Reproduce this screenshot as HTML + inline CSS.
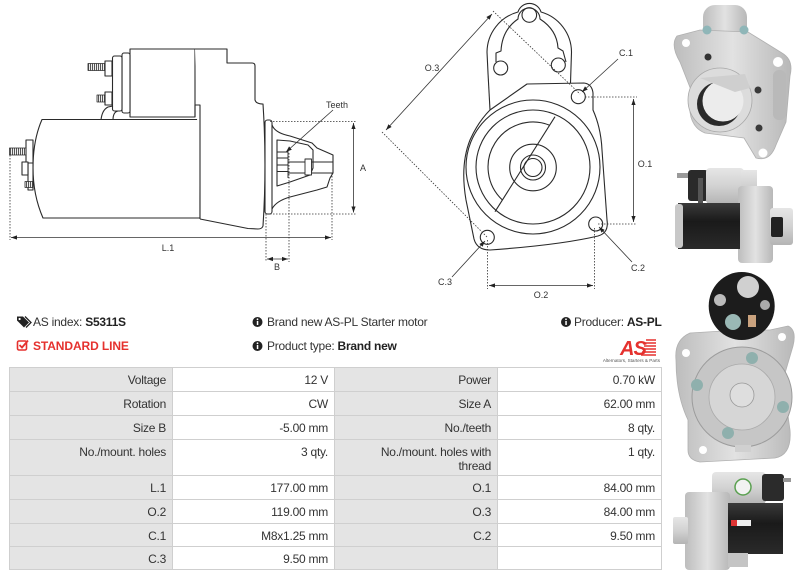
<!DOCTYPE html>
<html>
<head>
<meta charset="utf-8">
<style>
html,body{margin:0;padding:0;background:#fff;}
body{width:800px;height:578px;position:relative;overflow:hidden;font-family:"Liberation Sans",Arial,sans-serif;color:#333;}
.t{position:absolute;font-size:12px;line-height:14px;white-space:nowrap;letter-spacing:-0.25px;color:#333;}
.t b{color:#222;}
.grid{position:absolute;left:9px;top:367px;display:grid;grid-template-columns:163px 162px 163px 164px;grid-template-rows:24px 24px 24px 36px 24px 24px 23px 23px;border-top:1px solid #cfcfcf;border-left:1px solid #cfcfcf;}
.grid div{box-sizing:border-box;border-right:1px solid #cfcfcf;border-bottom:1px solid #cfcfcf;text-align:right;padding:5px 6px 0 0;font-size:12px;line-height:14px;letter-spacing:-0.25px;color:#333;white-space:nowrap;}
.grid .l{background:#e4e4e4;}
.grid .v{background:#fff;}
</style>
</head>
<body>
<svg width="800" height="578" style="position:absolute;left:0;top:0" xmlns="http://www.w3.org/2000/svg">
<defs>
<marker id="ar" viewBox="0 0 10 10" refX="10" refY="5" markerUnits="userSpaceOnUse" markerWidth="6" markerHeight="6" orient="auto-start-reverse"><path d="M0 1.5 L10 5 L0 8.5 z" fill="#222"/></marker>
<pattern id="th" width="2" height="10" patternUnits="userSpaceOnUse"><rect width="2" height="10" fill="#fff"/><rect width="1.1" height="10" fill="#555"/></pattern>
<linearGradient id="sv" x1="0" y1="0" x2="0" y2="1"><stop offset="0" stop-color="#e6e6e6"/><stop offset="0.5" stop-color="#d2d2d2"/><stop offset="1" stop-color="#b4b4b4"/></linearGradient>
<linearGradient id="svh" x1="0" y1="0" x2="1" y2="0"><stop offset="0" stop-color="#bdbdbd"/><stop offset="0.5" stop-color="#e2e2e2"/><stop offset="1" stop-color="#b8b8b8"/></linearGradient>
<linearGradient id="bk" x1="0" y1="0" x2="0" y2="1"><stop offset="0" stop-color="#3a3a3a"/><stop offset="0.4" stop-color="#1a1a1a"/><stop offset="1" stop-color="#2a2a2a"/></linearGradient>
</defs>

<!-- LEFT DIAGRAM -->
<g fill="none" stroke="#2a2a2a" stroke-width="1.1" stroke-linejoin="round">
  <path d="M42 119.5 L200 119.5 L200 218 L43 218 Q33 195 33 168 Q33 140 42 119.5 Z" fill="#fff"/>
  <rect x="26" y="140" width="7" height="23" fill="#fff"/>
  <rect x="28" y="163" width="5" height="27" fill="#fff"/>
  <rect x="22" y="162" width="6" height="13" fill="#fff"/>
  <rect x="9.5" y="148" width="16.5" height="7" fill="url(#th)" stroke-width="0.8"/>
  <rect x="25" y="181.5" width="8" height="6" fill="url(#th)" stroke-width="0.8"/>
  <rect x="130" y="49" width="65" height="68" fill="#fff"/>
  <rect x="122" y="53" width="8" height="60" rx="2" fill="#fff"/>
  <rect x="112.5" y="56" width="9.5" height="55" rx="2" fill="#fff"/>
  <rect x="88" y="63.5" width="17" height="7" fill="url(#th)" stroke-width="0.8"/>
  <rect x="105" y="61" width="7" height="15" fill="#fff"/>
  <rect x="97" y="95" width="8" height="7" fill="url(#th)" stroke-width="0.8"/>
  <rect x="105" y="92" width="7" height="13" fill="#fff"/>
  <path d="M101 120 Q102 110 108 107 L113 106"/>
  <path d="M113 120 Q113 112 118 111"/>
  <path d="M195 49 L227 49 L227 63 L252 63 Q255 63 255 66 L255 100 Q256 104 263 104 Q267 165 263 226 Q262 229 258 229 L248 228.5 L200 219" fill="#fff"/>
  <path d="M195 117 L195 105 L200 105 L200 219"/>
  <rect x="265" y="120" width="7" height="94" rx="2.5" fill="#fff"/>
  <path d="M272 125 Q275 133 290 136 L312 143 L317 148 L333 155 L333 173 L330 178 L327 187 L317 190 L290 197 Q276 201 272 209"/>
  <path d="M277 140 L290 141 L308 145 L313 150 L313 168 L310 175 L290 182 L277 186 Z"/>
  <path d="M277 152 H288 M277 158 H288 M277 165 H288 M277 171.5 H288 M288 150 V178" stroke-width="0.9"/>
  <path d="M288 162 H333 M288 173 H333" stroke-width="0.9"/>
  <rect x="305" y="159" width="6.5" height="16" fill="#fff" stroke-width="0.9"/>
</g>
<g fill="none" stroke="#333" stroke-width="0.8">
  <path d="M270 121.5 H356 M270 214 H356" stroke-dasharray="1.5 1.5"/>
  <path d="M10 155 V240 M332 173 V240 M266 214 V262 M289 153 V262" stroke-dasharray="1.5 1.5"/>
  <path d="M353.5 123 V212.5" marker-start="url(#ar)" marker-end="url(#ar)"/>
  <path d="M11 237.5 H331" marker-start="url(#ar)" marker-end="url(#ar)"/>
  <path d="M267 259 H288" marker-start="url(#ar)" marker-end="url(#ar)"/>
  <path d="M333 110 L286 152" marker-end="url(#ar)"/>
</g>
<g font-family="Liberation Sans, sans-serif" font-size="9" fill="#333">
  <text x="337" y="108" text-anchor="middle">Teeth</text>
  <text x="363" y="171" text-anchor="middle">A</text>
  <text x="168" y="251" text-anchor="middle">L.1</text>
  <text x="277" y="270" text-anchor="middle">B</text>
</g>

<!-- MIDDLE DIAGRAM -->
<g fill="none" stroke="#2a2a2a" stroke-width="1.1" stroke-linejoin="round">
  <path d="M488 73 L487 52 A42 42 0 0 1 518 12 A12 12 0 0 1 541 12 A42 42 0 0 1 571.5 52 L570.5 83"/>
  <path d="M488 73 L490 110"/>
  <path d="M496 62 L496 53 L501 51 Q502 30 518 19 A11 11 0 0 1 540 19 Q557 30 558 48 L563 51 L566 62"/>
  <circle cx="529.3" cy="15" r="7.3"/>
  <circle cx="500.7" cy="68" r="7"/>
  <circle cx="558.3" cy="65" r="7"/>
  <path d="M490 110 L527 84 L584 83 Q592 84 593 93 L593 110 Q601 128 602 150 L607 220 Q609 233 598 236 Q560 245 490 250 Q477 250 474 239 L466 200 Q460 165 470 140 Q478 122 490 110"/>
  <circle cx="533" cy="167" r="67"/>
  <circle cx="533" cy="167" r="57"/>
  <path d="M555 116.7 L495 211.7"/>
  <path d="M549.6 125.2 A45 45 0 0 0 502.4 200"/>
  <circle cx="533" cy="167.5" r="23.3"/>
  <circle cx="533" cy="167.5" r="12.5"/>
  <circle cx="533" cy="167.5" r="9"/>
  <circle cx="578.3" cy="96.7" r="7"/>
  <circle cx="595.7" cy="224" r="7"/>
  <circle cx="487.3" cy="237.3" r="7"/>
</g>
<g fill="none" stroke="#333" stroke-width="0.8">
  <path d="M493 11 L580 94 M382 132 L487 237" stroke-dasharray="1.5 1.5"/>
  <path d="M585 97 H637 M598 224 H637" stroke-dasharray="1.5 1.5"/>
  <path d="M487.5 240 V289 M594.5 228 V289" stroke-dasharray="1.5 1.5"/>
  <path d="M492 14 L386 130" marker-start="url(#ar)" marker-end="url(#ar)"/>
  <path d="M633.5 99 V222" marker-start="url(#ar)" marker-end="url(#ar)"/>
  <path d="M489 285.5 H593" marker-start="url(#ar)" marker-end="url(#ar)"/>
  <path d="M618 59 L582 92" marker-end="url(#ar)"/>
  <path d="M632 262 L599 227" marker-end="url(#ar)"/>
  <path d="M452 277 L485 241" marker-end="url(#ar)"/>
</g>
<g font-family="Liberation Sans, sans-serif" font-size="9" fill="#333">
  <text x="432" y="71" text-anchor="middle">O.3</text>
  <text x="626" y="56" text-anchor="middle">C.1</text>
  <text x="645" y="167" text-anchor="middle">O.1</text>
  <text x="638" y="271" text-anchor="middle">C.2</text>
  <text x="445" y="285" text-anchor="middle">C.3</text>
  <text x="541" y="298" text-anchor="middle">O.2</text>
</g>

<!-- PHOTO 1 : front -->
<g>
  <rect x="703" y="5" width="44" height="34" rx="12" fill="url(#svh)"/>
  <path d="M677 36 L700 30 L748 32 L782 53 Q794 60 790 76 L786 122 L776 145 Q770 162 756 158 L744 138 L705 133 Q692 128 690 112 L691 90 L680 62 Q670 45 677 36 Z" fill="url(#svh)" stroke="#b0b0b0" stroke-width="0.8"/>
  <rect x="773" y="70" width="13" height="50" rx="6" fill="#b9b9b9"/>
  <circle cx="720" cy="100" r="32" fill="#dcdcdc" stroke="#a8a8a8" stroke-width="0.8"/>
  <circle cx="719" cy="104" r="22" fill="#2a2a2a"/>
  <circle cx="723" cy="101" r="20.5" fill="#ececec"/>
  <path d="M700 78 L745 74 L750 88 L735 92 Z" fill="#cfcfcf"/>
  <circle cx="686" cy="43" r="4" fill="#fff"/>
  <circle cx="778" cy="62" r="5" fill="#fff"/>
  <circle cx="763" cy="153" r="4.5" fill="#fff"/>
  <circle cx="708" cy="57" r="3.5" fill="#333"/>
  <circle cx="758" cy="90" r="3.5" fill="#3a3a3a"/>
  <circle cx="759" cy="128" r="3.5" fill="#3a3a3a"/>
  <circle cx="707" cy="30" r="4.5" fill="#8fb6b8"/>
  <circle cx="744" cy="30" r="4.5" fill="#8fb6b8"/>
</g>

<!-- PHOTO 2 : side -->
<g>
  <rect x="677" y="173" width="12" height="5" fill="#9a9a9a"/>
  <rect x="688" y="170" width="20" height="31" rx="3" fill="#2a2a2a"/>
  <rect x="698" y="178" width="5" height="26" fill="#555"/>
  <rect x="706" y="168" width="38" height="36" rx="4" fill="url(#sv)"/>
  <rect x="741" y="170" width="16" height="30" fill="url(#sv)"/>
  <rect x="738" y="186" width="35" height="77" rx="4" fill="url(#svh)"/>
  <rect x="770" y="208" width="23" height="37" rx="3" fill="url(#sv)"/>
  <rect x="771" y="217" width="12" height="20" rx="2" fill="#222"/>
  <rect x="678" y="203" width="62" height="46" fill="url(#bk)"/>
  <rect x="675" y="204" width="8" height="44" rx="3" fill="#c8c8c8"/>
</g>

<!-- PHOTO 3 : front with solenoid -->
<g>
  <path d="M690 333 L740 330 L770 330 L788 326 Q797 330 793 346 L783 380 L790 430 Q792 455 775 458 L700 462 Q688 460 688 450 L688 420 Q676 395 676 360 Q674 340 690 333 Z" fill="url(#svh)" stroke="#b0b0b0" stroke-width="0.8"/>
  <ellipse cx="741.7" cy="306" rx="33" ry="34" fill="#1c1c1c"/>
  <circle cx="748" cy="287" r="11" fill="#d0d0d0"/>
  <circle cx="720" cy="300" r="6" fill="#bbb"/>
  <circle cx="765" cy="305" r="5" fill="#aaa"/>
  <circle cx="733" cy="322" r="8" fill="#9ab8b5"/>
  <rect x="748" y="315" width="8" height="12" fill="#c9a27e"/>
  <circle cx="686" cy="353" r="4" fill="#fff"/>
  <circle cx="782" cy="337" r="4" fill="#fff"/>
  <circle cx="703" cy="450" r="4" fill="#fff"/>
  <circle cx="742" cy="397" r="50" fill="#c6c6c6" stroke="#9c9c9c" stroke-width="1"/>
  <circle cx="742" cy="397" r="33" fill="#d6d6d6" stroke="#aaa" stroke-width="0.8"/>
  <circle cx="742" cy="395" r="12" fill="#dedede" stroke="#999" stroke-width="0.8"/>
  <circle cx="752" cy="358" r="6" fill="#8fb0ad"/>
  <circle cx="697" cy="385" r="6" fill="#8fb0ad"/>
  <circle cx="783" cy="407" r="6" fill="#8fb0ad"/>
  <circle cx="728" cy="433" r="6" fill="#8fb0ad"/>
  <rect x="735" y="445" width="16" height="7" fill="#d0d0d0"/>
</g>

<!-- PHOTO 4 : side other -->
<g>
  <rect x="712" y="472" width="54" height="32" rx="4" fill="url(#sv)"/>
  <rect x="762" y="474" width="22" height="27" rx="3" fill="#2b2b2b"/>
  <rect x="783" y="478" width="8" height="4" fill="#999"/>
  <circle cx="743" cy="487" r="8" fill="#f2f2f2" stroke="#5aa050" stroke-width="1.5"/>
  <rect x="685" y="492" width="45" height="78" rx="4" fill="url(#svh)"/>
  <rect x="673" y="517" width="15" height="27" rx="2" fill="url(#sv)"/>
  <rect x="728" y="503" width="55" height="51" fill="url(#bk)"/>
  <rect x="728" y="553" width="20" height="14" fill="#c4c4c4"/>
  <rect x="731" y="520" width="20" height="6" fill="#eee"/>
  <rect x="731" y="520" width="6" height="6" fill="#d33"/>
</g>

<!-- ICONS -->
<path d="M17 316.5 L23 316.5 L29 322.5 L24 327.5 L17 320.5 Z" fill="#222"/>
<circle cx="19.6" cy="319" r="1.1" fill="#fff"/>
<path d="M25 316.5 L31 322.5 L26 327.5" fill="none" stroke="#222" stroke-width="1.3"/>
<rect x="17.5" y="341" width="9" height="9" rx="1.5" fill="none" stroke="#e5312e" stroke-width="1.6"/>
<path d="M19.5 345 L22 347.5 L28 340.5" fill="none" stroke="#e5312e" stroke-width="1.8"/>
<g>
  <circle cx="257.5" cy="322" r="5" fill="#222"/><rect x="256.8" y="321" width="1.5" height="4" fill="#fff"/><circle cx="257.5" cy="319.3" r="0.9" fill="#fff"/>
  <circle cx="257.5" cy="346" r="5" fill="#222"/><rect x="256.8" y="345" width="1.5" height="4" fill="#fff"/><circle cx="257.5" cy="343.3" r="0.9" fill="#fff"/>
  <circle cx="566" cy="322" r="5" fill="#222"/><rect x="565.3" y="321" width="1.5" height="4" fill="#fff"/><circle cx="566" cy="319.3" r="0.9" fill="#fff"/>
</g>
<g>
  <text x="620" y="355" font-family="Liberation Sans, sans-serif" font-size="20" font-weight="bold" font-style="italic" fill="#e5312e" letter-spacing="-1">AS</text>
  <path d="M646 340 H656 M645 343 H656 M644 346 H656 M643 349 H656 M642 352 H656 M641 355 H656" stroke="#e5312e" stroke-width="1.6"/>
  <text x="660" y="362" text-anchor="end" font-family="Liberation Sans, sans-serif" font-size="4.6" fill="#555">Alternators, Starters &amp; Parts</text>
</g>
</svg>

<div class="t" style="left:33px;top:315px;">AS index: <b>S5311S</b></div>
<div class="t" style="left:33px;top:339px;color:#e5312e;font-weight:bold;letter-spacing:-0.1px;">STANDARD LINE</div>
<div class="t" style="left:267px;top:315px;">Brand new AS-PL Starter motor</div>
<div class="t" style="left:267px;top:339px;">Product type: <b>Brand new</b></div>
<div class="t" style="left:574px;top:315px;width:86px;text-align:right;">Producer: <b>AS-PL</b></div>

<div class="grid">
  <div class="l">Voltage</div><div class="v">12 V</div><div class="l">Power</div><div class="v">0.70 kW</div>
  <div class="l">Rotation</div><div class="v">CW</div><div class="l">Size A</div><div class="v">62.00 mm</div>
  <div class="l">Size B</div><div class="v">-5.00 mm</div><div class="l">No./teeth</div><div class="v">8 qty.</div>
  <div class="l">No./mount. holes</div><div class="v">3 qty.</div><div class="l">No./mount. holes with<br>thread</div><div class="v">1 qty.</div>
  <div class="l">L.1</div><div class="v">177.00 mm</div><div class="l">O.1</div><div class="v">84.00 mm</div>
  <div class="l">O.2</div><div class="v">119.00 mm</div><div class="l">O.3</div><div class="v">84.00 mm</div>
  <div class="l">C.1</div><div class="v">M8x1.25 mm</div><div class="l">C.2</div><div class="v">9.50 mm</div>
  <div class="l">C.3</div><div class="v">9.50 mm</div><div class="l"></div><div class="v"></div>
</div>
</body>
</html>
